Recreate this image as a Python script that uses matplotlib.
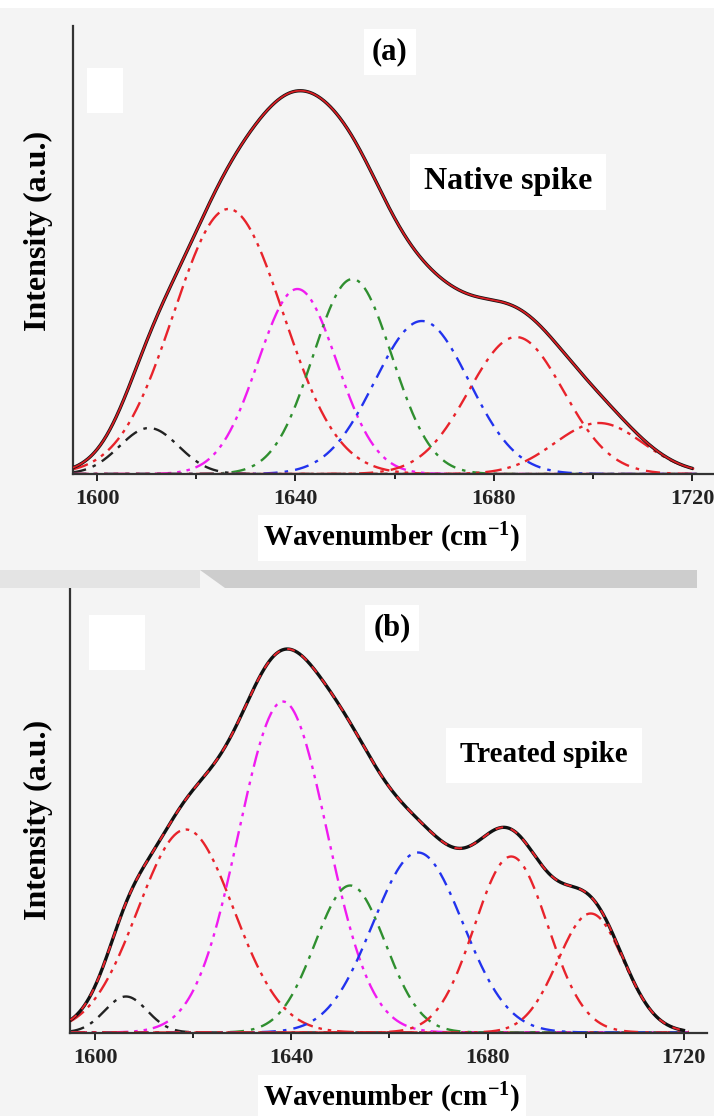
import numpy as np
import matplotlib
matplotlib.use("Agg")
import matplotlib.pyplot as plt
from matplotlib.patches import Rectangle, Polygon
from matplotlib.ticker import FixedLocator

plt.rcParams['font.family'] = ['Liberation Serif', 'DejaVu Serif']
plt.rcParams['font.weight'] = 'bold'
plt.rcParams['mathtext.fontset'] = 'custom'
plt.rcParams['mathtext.rm'] = 'Liberation Serif:bold'
plt.rcParams['mathtext.it'] = 'Liberation Serif:bold'
plt.rcParams['mathtext.bf'] = 'Liberation Serif:bold'

# fitted band components (centre cm-1, height a.u., FWHM cm-1)
centres_a = [1610.5, 1626.5, 1640.4, 1651.5, 1665.5, 1684.5, 1701.2]
heights_a = [46, 265, 185, 195, 153, 137, 51]
fwhm_a = [14.0, 26.0, 18.7, 18.7, 22.4, 22.5, 21.0]

centres_b = [1606.3, 1618.5, 1638.3, 1652.0, 1665.8, 1684.8, 1701.0]
heights_b = [36, 203, 331, 147, 180, 176, 119]
fwhm_b = [10.2, 23.0, 21.2, 16.9, 21.6, 17.6, 15.7]

band_colors = ["#222222", "#e8232b", "#f01bf0", "#2f8f2f", "#2233ee", "#e8232b", "#e8232b"]
band_dashes = [(6, 3, 1.5, 3), (7, 2.5, 1.5, 2.5, 1.5, 2.5), (7, 2.5, 1.5, 2.5, 1.5, 2.5),
               (6, 3, 1.5, 3), (6, 3, 1.5, 3), (6, 3, 1.5, 3), (7, 2.5, 1.5, 2.5, 1.5, 2.5)]

major_ticks = [1600, 1640, 1680, 1720]
minor_ticks = [1620, 1660, 1700]

W, H = 714, 1116


def band(x, c, h, w):
    return h * np.exp(-4 * np.log(2) * (x - c) ** 2 / w ** 2)


def px_axes(fig, left, top, right, bottom):
    return fig.add_axes([left / W, 1 - bottom / H, (right - left) / W, (bottom - top) / H])


fig = plt.figure(figsize=(W / 100, H / 100), dpi=100)
fig.patch.set_facecolor("#f4f4f4")

# white strip at the top and grey band between the two panels
fig.patches.append(Rectangle((0, 1 - 8 / H), 1, 8 / H, transform=fig.transFigure,
                             facecolor="white", edgecolor="none", zorder=0))
fig.patches.append(Rectangle((0, 1 - 588 / H), 200 / W, 18 / H, transform=fig.transFigure,
                             facecolor="#e4e4e4", edgecolor="none", zorder=0))
fig.patches.append(Polygon([(200 / W, 1 - 570 / H), (697 / W, 1 - 570 / H),
                            (697 / W, 1 - 588 / H), (225 / W, 1 - 588 / H)],
                           closed=True, transform=fig.transFigure,
                           facecolor="#cdcdcd", edgecolor="none", zorder=0))

panels = [
    dict(box=(72.5, 26, 714, 474), xlim=(1595.06, 1724.4), ylim=448,
         c=centres_a, h=heights_a, w=fwhm_a, tag="(a)", tag_xy=(390, 52),
         name="Native spike", name_xy=(508, 182), name_size=23,
         xlab_y=538, ylab_xy=(38, 231), blank=(87, 68, 123, 113), overlay="solid"),
    dict(box=(70, 588, 707, 1032.5), xlim=(1594.9, 1724.7), ylim=444.5,
         c=centres_b, h=heights_b, w=fwhm_b, tag="(b)", tag_xy=(392, 628),
         name="Treated spike", name_xy=(544, 755), name_size=21,
         xlab_y=1098, ylab_xy=(38, 820), blank=(89, 615, 145, 670), overlay="dashed"),
]

for p in panels:
    ax = px_axes(fig, *p["box"])
    ax.set_facecolor("none")
    x = np.linspace(1595, 1721, 800)

    total = np.zeros_like(x)
    for c, h, w, col, ds in zip(p["c"], p["h"], p["w"], band_colors, band_dashes):
        y = band(x, c, h, w)
        total += y
        ax.plot(x, y, color=col, lw=1.7, dashes=ds)

    xe = x[x <= 1720]
    te = total[x <= 1720]
    ax.plot(xe, te, color="#111111", lw=2.4, zorder=5)
    if p["overlay"] == "solid":
        ax.plot(xe, te, color="#d81e24", lw=1.3, zorder=6)
    else:
        ax.plot(xe, te, color="#e8232b", lw=1.4, dashes=(4, 4), zorder=6)

    ax.set_xlim(*p["xlim"])
    ax.set_ylim(0, p["ylim"])
    ax.spines["top"].set_visible(False)
    ax.spines["right"].set_visible(False)
    for s in ("left", "bottom"):
        ax.spines[s].set_linewidth(1.6)
        ax.spines[s].set_color("#333333")
    ax.set_yticks([])
    ax.xaxis.set_major_locator(FixedLocator(major_ticks))
    ax.xaxis.set_minor_locator(FixedLocator(minor_ticks))
    ax.tick_params(axis="x", which="major", direction="out", length=5, width=1.4,
                   labelsize=16, pad=6, colors="#222222")
    ax.tick_params(axis="x", which="minor", direction="out", length=3.5, width=1.2)
    for lab in ax.get_xticklabels():
        lab.set_fontweight("bold")

    # text boxes
    bx = dict(facecolor="white", edgecolor="none", pad=6)
    fig.text(p["tag_xy"][0] / W, 1 - p["tag_xy"][1] / H, p["tag"], ha="center", va="center",
             fontsize=22, fontweight="bold", bbox=bx)
    fig.text(p["name_xy"][0] / W, 1 - p["name_xy"][1] / H, p["name"], ha="center", va="center",
             fontsize=p["name_size"], fontweight="bold", bbox=dict(facecolor="white", edgecolor="none", pad=10))
    fig.text(392 / W, 1 - p["xlab_y"] / H, r"Wavenumber (cm$^{-1}$)", ha="center", va="center",
             fontsize=21, fontweight="bold", bbox=dict(facecolor="white", edgecolor="none", pad=4))
    fig.text(p["ylab_xy"][0] / W, 1 - p["ylab_xy"][1] / H, "Intensity (a.u.)", ha="center", va="center",
             rotation=90, fontsize=23, fontweight="bold")
    bl = p["blank"]
    fig.patches.append(Rectangle((bl[0] / W, 1 - bl[3] / H), (bl[2] - bl[0]) / W, (bl[3] - bl[1]) / H,
                                 transform=fig.transFigure, facecolor="white", edgecolor="none", zorder=0))

fig.savefig("out.png", dpi=100, facecolor=fig.get_facecolor())
